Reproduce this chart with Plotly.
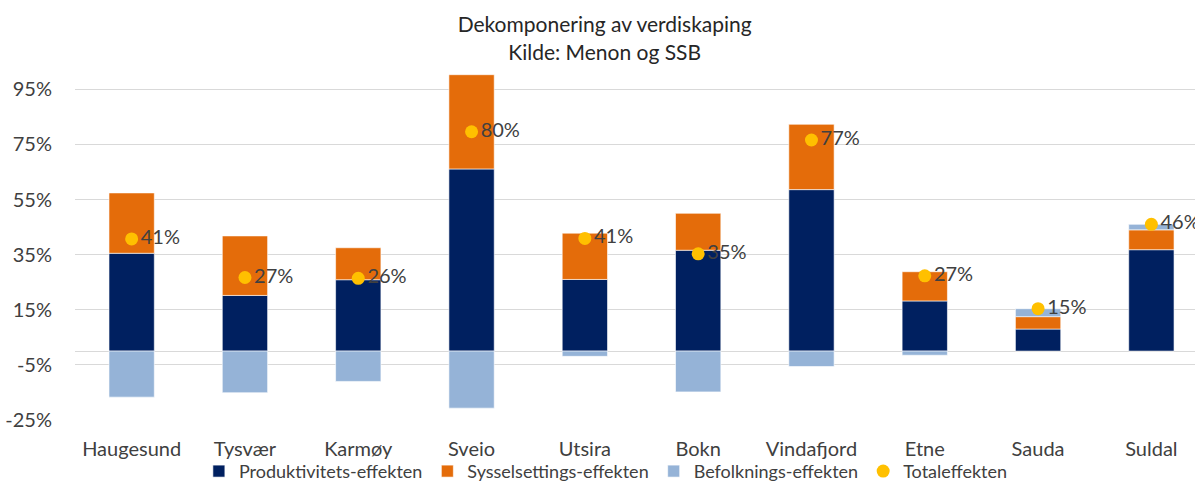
import plotly.graph_objects as go

categories = ["Haugesund", "Tysvær", "Karmøy", "Sveio", "Utsira", "Bokn", "Vindafjord", "Etne", "Sauda", "Suldal"]
produktivitet = [35.5, 20.2, 25.9, 66.1, 26.0, 36.6, 58.6, 18.2, 8.0, 36.8]
sysselsetting = [21.9, 21.6, 11.6, 34.2, 16.8, 13.4, 23.7, 10.6, 4.5, 7.2]
befolkning = [-16.7, -15.1, -11.0, -20.7, -1.9, -14.8, -5.6, -1.5, 2.9, 2.0]
total = [40.7, 26.7, 26.4, 79.6, 40.9, 35.3, 76.6, 27.3, 15.4, 46.0]
yticks = [95, 75, 55, 35, 15, -5, -25]
yticklabels = ["95%", "75%", "55%", "35%", "15%", "-5%", "-25%"]

FONT = "Lato"
TXT = "#404040"

fig = go.Figure()
line = dict(color="white", width=0.6)
fig.add_trace(go.Bar(x=categories, y=produktivitet, name="Produktivitets-effekten",
                     marker=dict(color="#002060", line=line)))
fig.add_trace(go.Bar(x=categories, y=sysselsetting, name="Sysselsettings-effekten",
                     marker=dict(color="#E46C0A", line=line)))
fig.add_trace(go.Bar(x=categories, y=befolkning, name="Befolknings-effekten",
                     marker=dict(color="#95B3D7", line=line)))
fig.add_trace(go.Scatter(x=categories, y=total, name="Totaleffekten", mode="markers+text",
                         marker=dict(color="#FFC000", size=13),
                         texttemplate="%{y:.0f}%", textposition="middle right",
                         textfont=dict(family=FONT, size=20, color=TXT),
                         cliponaxis=False))

fig.update_layout(
    width=1195, height=482,
    barmode="relative", bargap=0.6,
    paper_bgcolor="white", plot_bgcolor="white",
    margin=dict(l=75, r=0, t=70, b=62, autoexpand=False),
    font=dict(family=FONT, color=TXT),
    title=dict(text="Dekomponering av verdiskaping<br>Kilde: Menon og SSB",
               x=0.506, xanchor="center", yref="container", y=0.933, yanchor="top",
               font=dict(family=FONT, size=21, color="#262626")),
    showlegend=True,
    legend=dict(orientation="h", x=0.474, xanchor="center",
                yref="container", y=0.022, yanchor="middle",
                font=dict(family=FONT, size=18, color=TXT), itemwidth=30,
                traceorder="normal", bgcolor="rgba(0,0,0,0)"),
)
fig.update_xaxes(range=[-0.5, 9.385], showgrid=False, showline=False, ticks="",
                 tickfont=dict(family=FONT, size=20, color=TXT), ticklabelstandoff=15,
                 automargin=False)
fig.update_yaxes(range=[-25, 102], tickvals=yticks, ticktext=yticklabels,
                 showgrid=True, gridcolor="#D9D9D9", gridwidth=1,
                 zeroline=True, zerolinecolor="#D9D9D9", zerolinewidth=1,
                 tickfont=dict(family=FONT, size=20, color=TXT), ticklabelstandoff=22,
                 automargin=False)

fig.write_html("out.html", config={"displayModeBar": False},
               post_script="document.body.style.margin='0';")
